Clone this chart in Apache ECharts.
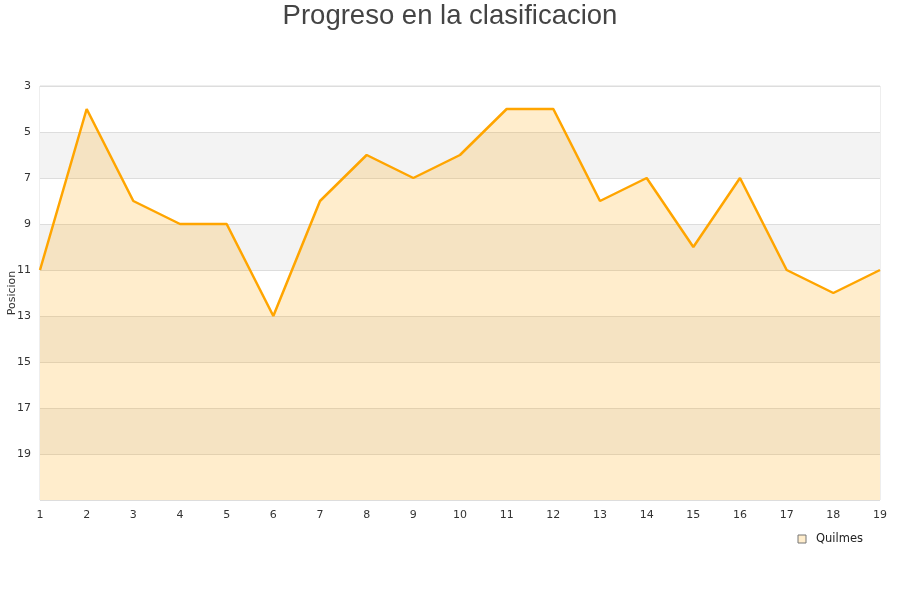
<!DOCTYPE html>
<html><head><meta charset="utf-8">
<script src="https://cdn.jsdelivr.net/npm/echarts@6/dist/echarts.min.js"></script>
<style>html,body{margin:0;padding:0;background:#fff}#c{width:900px;height:600px}</style>
</head><body><div id="c"></div>
<script>
const jornadas = ['1','2','3','4','5','6','7','8','9','10','11','12','13','14','15','16','17','18','19'];
const posiciones = [11,4,8,9,9,13,8,6,7,6,4,4,8,7,10,7,11,12,11];
const yTicks = [3,5,7,9,11,13,15,17,19];
const chart = echarts.init(document.getElementById('c'));
chart.setOption({
  animation:false,
  backgroundColor:'#fff',
  title:{text:'Progreso en la clasificacion',left:'center',top:-3,
    textStyle:{fontFamily:'Liberation Sans, Arial, sans-serif',fontSize:27.5,fontWeight:'normal',color:'#444'}},
  grid:{left:40,right:20,top:86,bottom:100,show:true,borderColor:'#ddd',borderWidth:1,backgroundColor:'transparent',
    containLabel:false,outerBoundsMode:'none'},
  legend:{right:32,top:528,itemWidth:8,itemHeight:8,icon:'rect',itemGap:6,
    textStyle:{fontFamily:'DejaVu Sans, sans-serif',fontSize:11.5,color:'#222',padding:[0,0,0,5]},
    data:[{name:'Quilmes',itemStyle:{color:'#FFEDCC',borderColor:'#777',borderWidth:1}}]},
  xAxis:{type:'category',data:jornadas,boundaryGap:false,
    axisLine:{show:false},axisTick:{show:false},
    axisLabel:{fontFamily:'DejaVu Sans, sans-serif',fontSize:11,color:'#333',margin:10},
    splitLine:{show:false}},
  yAxis:{type:'value',inverse:true,min:3,max:21,interval:2,name:'Posicion',nameLocation:'middle',nameGap:22,
    nameMoveOverlap:false,
    nameTextStyle:{fontFamily:'DejaVu Sans, sans-serif',fontSize:11,color:'#333'},
    axisLine:{show:false},axisTick:{show:false},
    axisLabel:{fontFamily:'DejaVu Sans, sans-serif',fontSize:11,color:'#333',margin:9,
      formatter:function(v){return yTicks.indexOf(v)>=0?String(v):'';}},
    splitLine:{show:true,lineStyle:{color:'#ddd',width:1}},
    splitArea:{show:true,areaStyle:{color:['#ffffff','#f3f3f3']}}},
  series:[{name:'Quilmes',type:'line',data:posiciones,symbol:'none',
    lineStyle:{color:'#FFA500',width:2.5},itemStyle:{color:'#FFA500'},
    areaStyle:{color:'#FFA500',opacity:0.2,origin:'end'}}]
});
</script></body></html>
